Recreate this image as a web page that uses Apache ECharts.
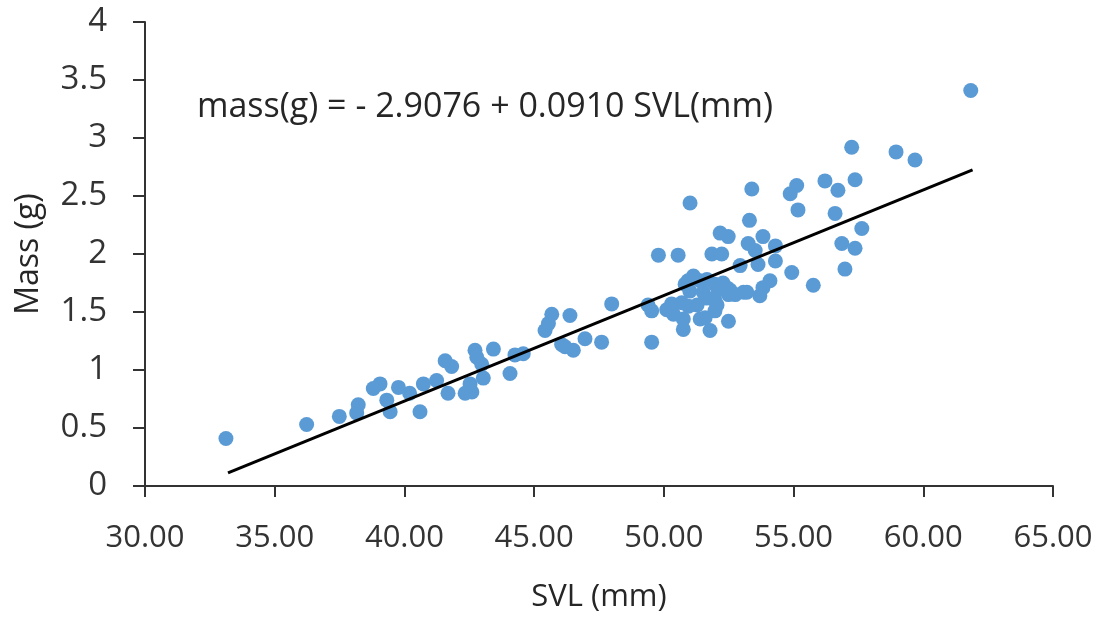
<!DOCTYPE html>
<html>
<head>
<meta charset="utf-8">
<script src="https://cdn.jsdelivr.net/npm/echarts@6/dist/echarts.min.js"></script>
<style>html,body{margin:0;padding:0;background:#fff;}#c{width:1103px;height:618px;}</style>
</head>
<body>
<div id="c"></div>
<script>
var svl = [33.12,36.23,37.49,38.22,38.16,38.80,39.06,39.32,39.45,39.77,40.20,40.60,40.73,41.24,41.57,41.68,41.82,42.34,42.60,42.53,42.72,42.79,42.98,43.04,43.43,44.07,44.26,44.58,45.42,45.55,45.68,46.38,46.06,46.19,46.51,46.96,47.60,47.99,49.53,49.79,50.55,51.01,51.85,52.23,52.17,52.48,53.30,53.39,53.25,53.52,53.82,54.30,54.30,52.94,53.63,54.87,55.12,56.21,56.71,57.37,55.17,56.60,57.63,56.86,57.37,56.98,55.76,54.93,57.24,58.95,59.68,61.83,54.09,53.82,53.70,53.20,52.75,52.42,51.97,51.14,51.40,50.82,51.00,51.52,49.53,50.11,50.37,50.75,50.75,51.40,51.78,51.97,52.49,51.65,51.97,52.49,53.07,50.69,50.95,50.30,52.28,52.55,51.66,52.09,49.39,51.28,52.05,51.59,50.93];
var mass = [0.41,0.53,0.60,0.70,0.63,0.84,0.88,0.74,0.64,0.85,0.80,0.64,0.88,0.91,1.08,0.80,1.03,0.80,0.81,0.88,1.17,1.11,1.05,0.93,1.18,0.97,1.13,1.14,1.34,1.40,1.48,1.47,1.22,1.20,1.17,1.27,1.24,1.57,1.24,1.99,1.99,2.44,2.00,2.00,2.18,2.15,2.29,2.56,2.09,2.03,2.15,2.07,1.94,1.90,1.91,2.52,2.59,2.63,2.55,2.64,2.38,2.35,2.22,2.09,2.05,1.87,1.73,1.84,2.92,2.88,2.81,3.41,1.77,1.71,1.64,1.67,1.65,1.71,1.74,1.81,1.77,1.74,1.68,1.67,1.51,1.52,1.48,1.44,1.35,1.44,1.34,1.51,1.42,1.62,1.60,1.65,1.67,1.58,1.55,1.57,1.75,1.69,1.78,1.69,1.56,1.56,1.56,1.45,1.77];
var fitIntercept = -2.9076;
var fitSlope = 0.0910;
var fitRange = [33.2, 61.9];
var equationText = 'mass(g) = - 2.9076 + 0.0910 SVL(mm)';

var points = svl.map(function(v, i){ return [v, mass[i]]; });
var fitLine = fitRange.map(function(x){ return [x, fitIntercept + fitSlope * x]; });

var chart = echarts.init(document.getElementById('c'), null, {renderer: 'canvas'});
var font = '"Open Sans", "Noto Sans", sans-serif';
chart.setOption({
  animation: false,
  backgroundColor: '#fff',
  title: {
    text: equationText,
    left: 192, top: 85,
    textStyle: {fontFamily: font, fontSize: 34, fontWeight: 'normal', color: '#262626'}
  },
  grid: {left: 145, right: 50, top: 22, bottom: 128, containLabel: false},
  xAxis: {
    type: 'value', min: 30, max: 65, interval: 5,
    name: 'SVL (mm)', nameLocation: 'middle', nameGap: 96,
    nameTextStyle: {fontFamily: font, fontSize: 31, color: '#262626'},
    axisLine: {show: true, lineStyle: {color: '#333', width: 2}},
    axisTick: {show: true, length: 11, lineStyle: {color: '#333', width: 2}},
    axisLabel: {fontFamily: font, fontSize: 31, color: '#333', margin: 37,
      formatter: function(v){ return v.toFixed(2); }},
    splitLine: {show: false}
  },
  yAxis: {
    type: 'value', min: 0, max: 4, interval: 0.5,
    name: 'Mass (g)', nameLocation: 'middle', nameGap: 100,
    nameTextStyle: {fontFamily: font, fontSize: 32, color: '#262626'},
    axisLine: {show: true, lineStyle: {color: '#333', width: 2}},
    axisTick: {show: true, length: 12, lineStyle: {color: '#333', width: 2}},
    axisLabel: {fontFamily: font, fontSize: 33, color: '#333', margin: 38},
    splitLine: {show: false}
  },
  series: [
    {
      type: 'scatter', data: points, symbolSize: 15,
      itemStyle: {color: '#5B9BD5', opacity: 1}
    },
    {
      type: 'line', data: fitLine, showSymbol: false, symbol: 'none',
      lineStyle: {color: '#000', width: 3}, z: 3
    }
  ]
});
</script>
</body>
</html>
